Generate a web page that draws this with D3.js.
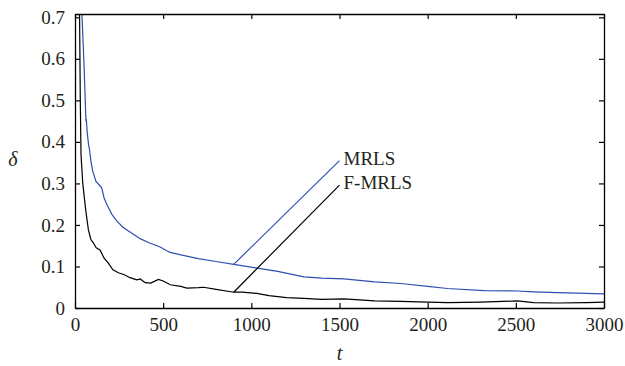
<!DOCTYPE html>
<html lang="en">
<head>
<meta charset="UTF-8">
<title>MRLS vs F-MRLS</title>
<script src="https://d3js.org/d3.v7.min.js"></script>
<style>
    body { margin: 0; background: #fff; }
    text { font-family: "Liberation Serif", "DejaVu Serif", serif; fill: #231f20; }
</style>
</head>
<body>
<div id="chart"></div>
<script>
    // values
    const mrlsT = [30, 40, 50, 58, 62, 64, 70, 78, 81, 91, 100, 119, 140, 151, 165, 180, 210, 237, 270, 301, 340, 369, 420, 483, 520, 540, 600, 699, 800, 900, 1032, 1150, 1297, 1400, 1525, 1700, 1847, 2000, 2112, 2320, 2509, 2600, 2737, 2900, 3000];
    const mrlsV = [0.85, 0.70, 0.60, 0.50, 0.45, 0.455, 0.42, 0.39, 0.385, 0.352, 0.33, 0.305, 0.295, 0.29, 0.265, 0.25, 0.225, 0.21, 0.195, 0.186, 0.175, 0.167, 0.157, 0.147, 0.138, 0.134, 0.128, 0.119, 0.112, 0.105, 0.096, 0.088, 0.075, 0.072, 0.070, 0.063, 0.059, 0.052, 0.047, 0.042, 0.041, 0.039, 0.037, 0.035, 0.034];

    const fmrlsT = [0, 20, 26, 30, 34, 44, 61, 76, 90, 104, 120, 142, 165, 189, 215, 246, 280, 312, 350, 370, 398, 430, 473, 500, 540, 600, 634, 701, 729, 800, 900, 950, 1032, 1100, 1200, 1297, 1400, 1525, 1700, 1847, 2000, 2112, 2300, 2509, 2600, 2737, 2900, 3000];
    const fmrlsV = [0.9, 0.76, 0.70, 0.50, 0.37, 0.30, 0.235, 0.188, 0.165, 0.157, 0.145, 0.140, 0.12, 0.108, 0.092, 0.085, 0.080, 0.073, 0.068, 0.070, 0.061, 0.060, 0.069, 0.065, 0.056, 0.052, 0.048, 0.049, 0.050, 0.045, 0.038, 0.038, 0.035, 0.030, 0.025, 0.023, 0.021, 0.022, 0.017, 0.016, 0.014, 0.013, 0.014, 0.017, 0.013, 0.012, 0.013, 0.014];

    const xTicks = [0, 500, 1000, 1500, 2000, 2500, 3000];
    const yTicks = [0, 0.1, 0.2, 0.3, 0.4, 0.5, 0.6, 0.7];

    // callout lines: [from point on curve] -> [label end]
    const labels = ["MRLS", "F-MRLS"];
    const calloutFromT = [900, 900];
    const calloutFromV = [0.105, 0.038];
    const calloutToT = [1500, 1500];
    const calloutToV = [0.355, 0.296];

    const colors = ["#2f4fb0", "#000000"];

    const W = 625, H = 366;
    const margin = { top: 14, right: 21, bottom: 58, left: 75 };
    const width = W - margin.left - margin.right,
        height = H - margin.top - margin.bottom;

    const svg = d3.select("#chart").append("svg")
        .attr("width", W).attr("height", H);
    const g = svg.append("g")
        .attr("transform", "translate(" + margin.left + "," + margin.top + ")");

    const x = d3.scaleLinear().domain([0, 3000]).range([0, width]);
    const y = d3.scaleLinear().domain([0, 0.708]).range([height, 0]);

    g.append("clipPath").attr("id", "clip")
        .append("rect").attr("width", width).attr("height", height);

    const line = d3.line().x(d => x(d[0])).y(d => y(d[1]));

    const series = [
        d3.zip(mrlsT, mrlsV),
        d3.zip(fmrlsT, fmrlsV)
    ];

    g.selectAll(".curve").data(series).enter()
        .append("path")
        .attr("class", "curve")
        .attr("clip-path", "url(#clip)")
        .attr("fill", "none")
        .attr("stroke", (d, i) => colors[i])
        .attr("stroke-width", 1.2)
        .attr("d", line);

    // axes with inward ticks on all sides
    const tl = 5;
    g.append("g").attr("transform", "translate(0," + height + ")")
        .call(d3.axisBottom(x).tickValues(xTicks).tickSizeInner(-tl).tickSizeOuter(0).tickPadding(10).tickFormat(d3.format("d")));
    g.append("g")
        .call(d3.axisTop(x).tickValues(xTicks).tickSizeInner(-tl).tickSizeOuter(0).tickFormat(""));
    g.append("g")
        .call(d3.axisLeft(y).tickValues(yTicks).tickSizeInner(-tl).tickSizeOuter(0).tickPadding(10).tickFormat(d => d === 0 ? "0" : d3.format(".1f")(d)));
    g.append("g").attr("transform", "translate(" + width + ",0)")
        .call(d3.axisRight(y).tickValues(yTicks).tickSizeInner(-tl).tickSizeOuter(0).tickFormat(""));

    g.selectAll(".domain").attr("stroke", "#000").attr("stroke-width", 1.3);
    g.selectAll(".tick line").attr("stroke", "#000").attr("stroke-width", 1.2);
    g.selectAll(".tick text").style("font-size", "19px").attr("fill", "#231f20");

    // callouts
    labels.forEach(function (lab, i) {
        g.append("line")
            .attr("x1", x(calloutFromT[i])).attr("y1", y(calloutFromV[i]))
            .attr("x2", x(calloutToT[i])).attr("y2", y(calloutToV[i]))
            .attr("stroke", colors[i]).attr("stroke-width", 1.2);
        g.append("text")
            .attr("x", x(calloutToT[i]) + 4)
            .attr("y", y(calloutToV[i]) + 4)
            .style("font-size", "19px")
            .text(lab);
    });

    // axis titles
    svg.append("text")
        .attr("x", margin.left + width / 2)
        .attr("y", 360)
        .attr("text-anchor", "middle")
        .style("font-size", "20px").style("font-style", "italic")
        .text("t");
    svg.append("text")
        .attr("x", 13)
        .attr("y", 166)
        .attr("text-anchor", "middle")
        .style("font-size", "20px").style("font-style", "italic")
        .text("δ");
</script>
</body>
</html>
